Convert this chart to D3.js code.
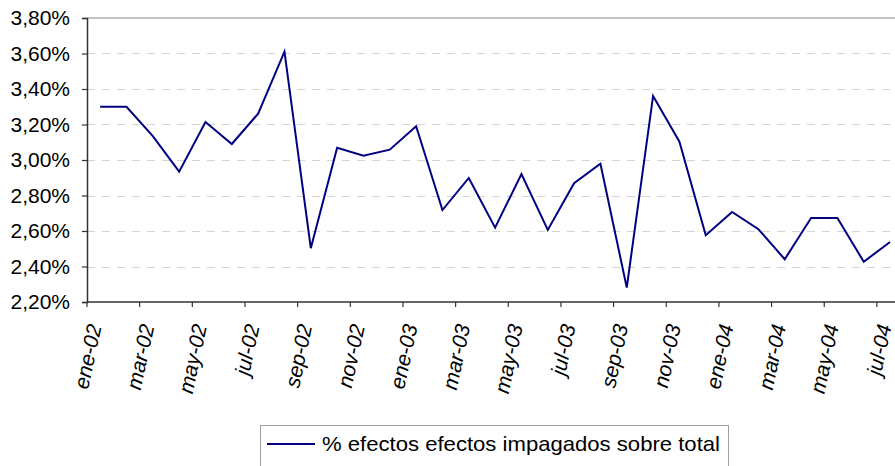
<!DOCTYPE html>
<html>
<head>
<meta charset="utf-8">
<script src="https://cdn.jsdelivr.net/npm/d3@7"></script>
<style>
  body { margin: 0; background: #fff; }
  svg { display: block; font-family: "Liberation Sans", Arial, sans-serif; }
</style>
</head>
<body>
<div id="chart"></div>
<script>
// monthly categories, ene-02 .. jul-04
var months = ["ene-02", "feb-02", "mar-02", "abr-02", "may-02", "jun-02", "jul-02", "ago-02",
    "sep-02", "oct-02", "nov-02", "dic-02", "ene-03", "feb-03", "mar-03", "abr-03",
    "may-03", "jun-03", "jul-03", "ago-03", "sep-03", "oct-03", "nov-03", "dic-03",
    "ene-04", "feb-04", "mar-04", "abr-04", "may-04", "jun-04", "jul-04"];

// % efectos impagados sobre total
var impagados = [3.30, 3.30, 3.135, 2.934, 3.214, 3.09, 3.261, 3.61,
    2.503, 3.069, 3.024, 3.058, 3.19, 2.718, 2.899, 2.619,
    2.921, 2.606, 2.869, 2.979, 2.281, 3.361, 3.103, 2.576,
    2.707, 2.61, 2.441, 2.673, 2.673, 2.427, 2.538];

var yTicks = [2.2, 2.4, 2.6, 2.8, 3.0, 3.2, 3.4, 3.6, 3.8];
var seriesName = "% efectos efectos impagados sobre total";

var W = 895, H = 466;
var plotLeft = 87, plotTop = 18, plotBottom = 302;
var catW = 26.33;

var svg = d3.select("#chart")
    .append("svg")
    .attr("width", W)
    .attr("height", H);

// scales
var x = d3.scaleBand()
    .domain(months)
    .range([plotLeft, plotLeft + months.length * catW]);

var y = d3.scaleLinear()
    .domain([2.2, 3.8])
    .range([plotBottom, plotTop]);

// gridlines
svg.append("g")
    .selectAll("line")
    .data(yTicks.slice(1, -1))
    .enter()
    .append("line")
    .attr("x1", plotLeft)
    .attr("x2", W)
    .attr("y1", function (d) { return Math.round(y(d)) + 0.5; })
    .attr("y2", function (d) { return Math.round(y(d)) + 0.5; })
    .attr("stroke", "#d4d4d4")
    .attr("stroke-width", 1)
    .attr("stroke-dasharray", "8,7");

// top border of plot area
svg.append("line")
    .attr("x1", plotLeft).attr("x2", W)
    .attr("y1", y(3.8)).attr("y2", y(3.8))
    .attr("stroke", "#8a8a8a")
    .attr("stroke-width", 1.2);

// y axis
var yAxis = svg.append("g")
    .attr("transform", "translate(" + plotLeft + ",0)")
    .call(d3.axisLeft(y)
        .tickValues(yTicks)
        .tickSize(5)
        .tickPadding(12)
        .tickFormat(function (d) { return d.toFixed(2).replace(".", ",") + "%"; }));

yAxis.select(".domain").attr("stroke", "#333").attr("stroke-width", 1.5);
yAxis.selectAll(".tick line").attr("stroke", "#333").attr("stroke-width", 1.2);
yAxis.selectAll("text")
    .style("font-size", "21px")
    .style("font-family", "Liberation Sans, Arial, sans-serif")
    .attr("fill", "#000");

// x axis line
svg.append("line")
    .attr("x1", plotLeft).attr("x2", W)
    .attr("y1", plotBottom).attr("y2", plotBottom)
    .attr("stroke", "#333")
    .attr("stroke-width", 1.5);

// ticks every two months, on category boundaries
var everyOther = months.filter(function (d, i) { return i % 2 == 0; });

svg.append("g")
    .selectAll("line")
    .data(everyOther)
    .enter()
    .append("line")
    .attr("x1", function (d) { return x(d); })
    .attr("x2", function (d) { return x(d); })
    .attr("y1", plotBottom)
    .attr("y2", plotBottom + 5)
    .attr("stroke", "#333")
    .attr("stroke-width", 1.2);

// rotated month labels
svg.append("g")
    .selectAll("text")
    .data(everyOther)
    .enter()
    .append("text")
    .attr("transform", function (d) {
        return "translate(" + (x(d) + x.bandwidth() / 2 + 1.5) + "," + (plotBottom + 24) + ") rotate(-78)";
    })
    .attr("text-anchor", "end")
    .attr("font-size", "21px")
    .attr("font-style", "italic")
    .attr("fill", "#000")
    .text(function (d) { return d; });

// the line
var line = d3.line()
    .x(function (d, i) { return x(months[i]) + x.bandwidth() / 2; })
    .y(function (d) { return y(d); });

svg.append("path")
    .datum(impagados)
    .attr("d", line)
    .attr("fill", "none")
    .attr("stroke", "#000080")
    .attr("stroke-width", 2)
    .attr("stroke-linejoin", "miter");

// legend
var leg = svg.append("g");
leg.append("rect")
    .attr("x", 260.5)
    .attr("y", 425.5)
    .attr("width", 468)
    .attr("height", 50)
    .attr("fill", "#fff")
    .attr("stroke", "#a0a0a0")
    .attr("stroke-width", 1);
leg.append("line")
    .attr("x1", 267).attr("x2", 315)
    .attr("y1", 444).attr("y2", 444)
    .attr("stroke", "#000080")
    .attr("stroke-width", 2);
leg.append("text")
    .attr("x", 322)
    .attr("y", 451)
    .attr("font-size", "21px")
    .attr("fill", "#000")
    .attr("textLength", 398)
    .attr("lengthAdjust", "spacingAndGlyphs")
    .text(seriesName);
</script>
</body>
</html>
